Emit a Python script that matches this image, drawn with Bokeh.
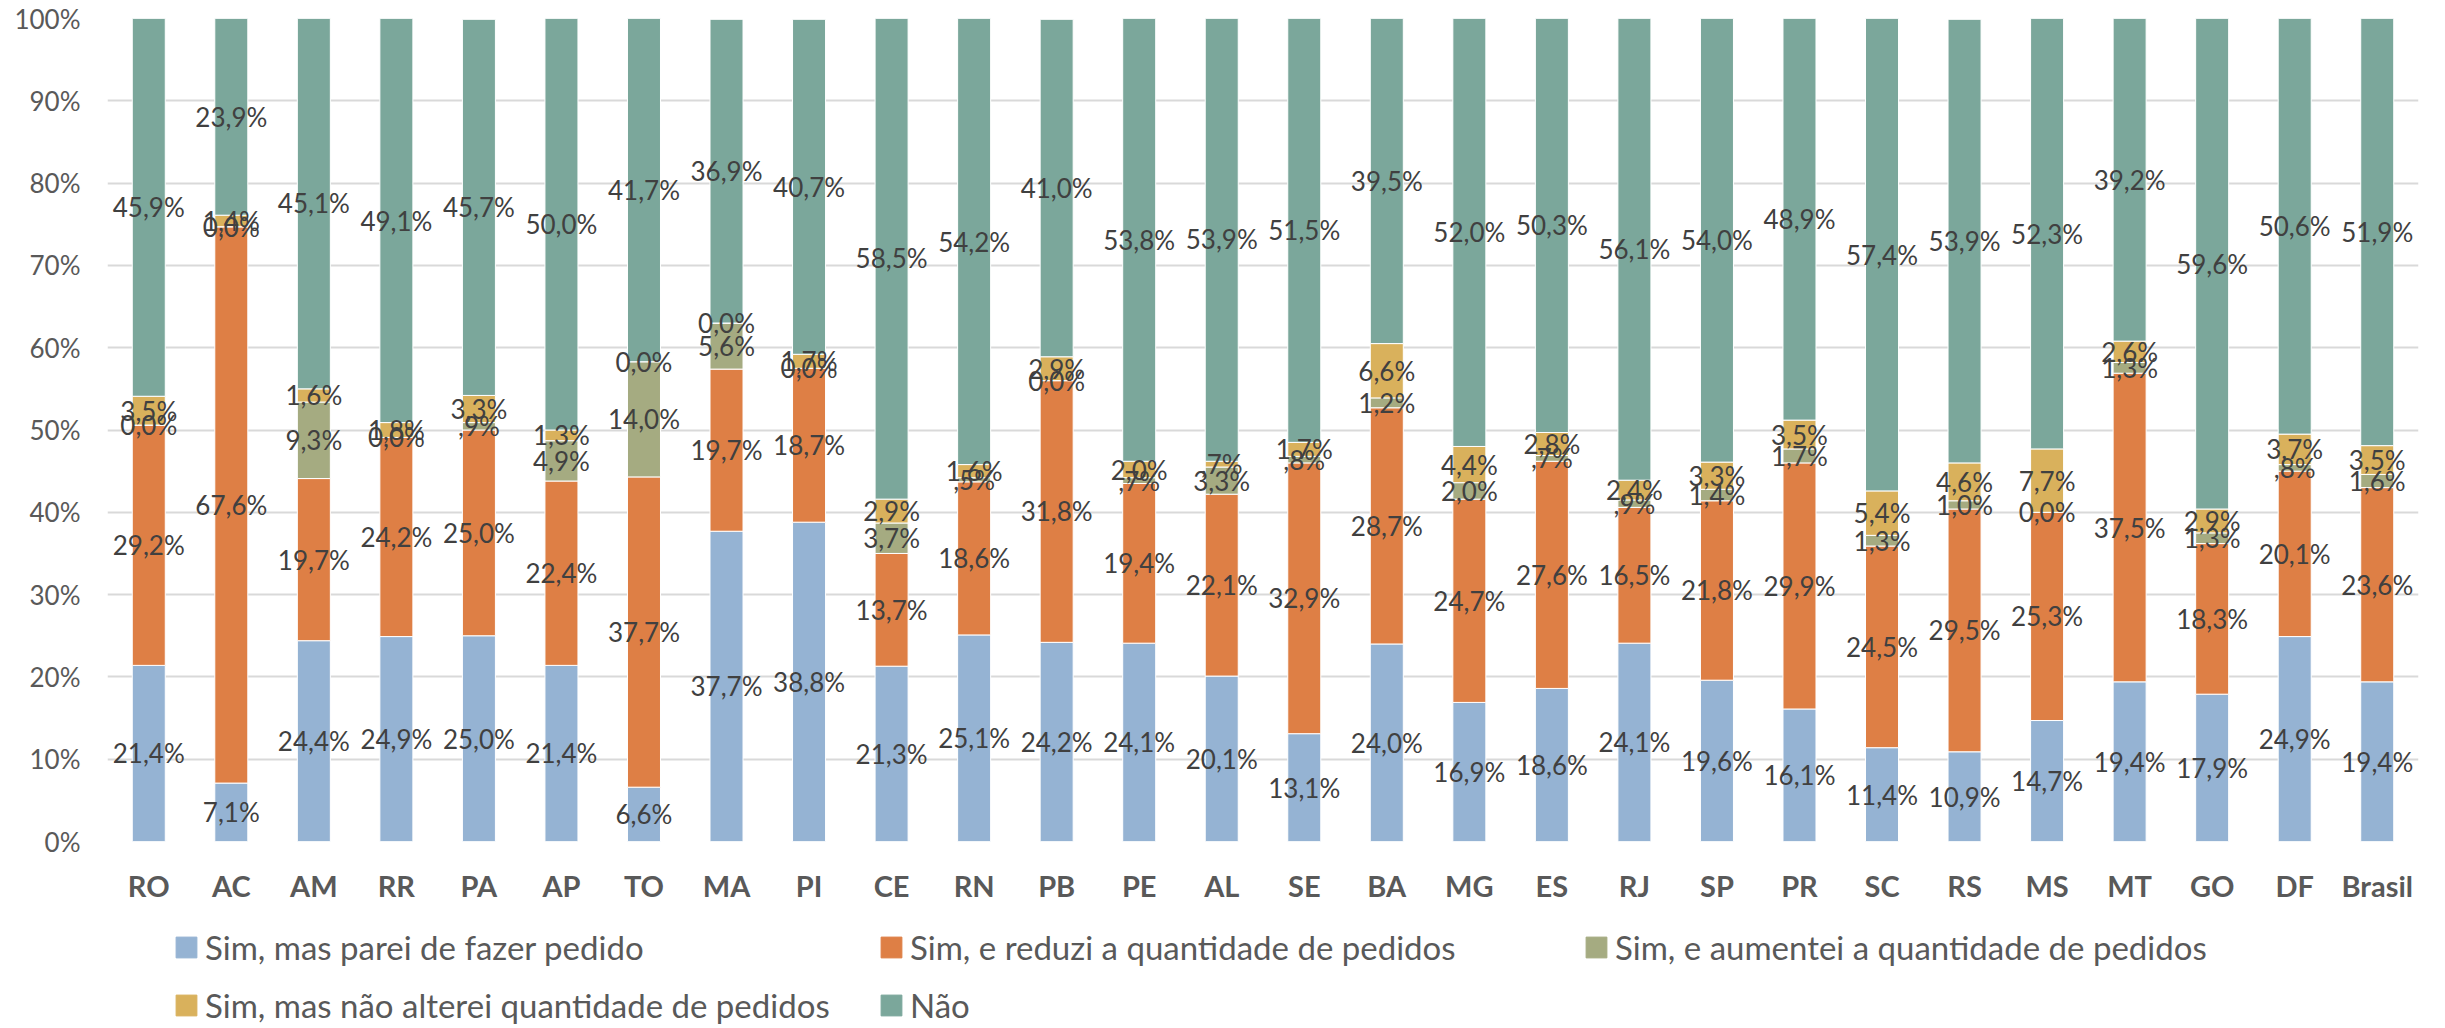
from bokeh.plotting import figure
from bokeh.layouts import column
from bokeh.models import (ColumnDataSource, FactorRange, Legend, LegendItem, PrintfTickFormatter,
                          FixedTicker, Range1d)
from bokeh.core.properties import value
from bokeh.embed import file_html
from bokeh.resources import INLINE

categories = ["RO", "AC", "AM", "RR", "PA", "AP", "TO", "MA", "PI", "CE", "RN", "PB", "PE", "AL",
              "SE", "BA", "MG", "ES", "RJ", "SP", "PR", "SC", "RS", "MS", "MT", "GO", "DF", "Brasil"]
parei = [21.4, 7.1, 24.4, 24.9, 25.0, 21.4, 6.6, 37.7, 38.8, 21.3, 25.1, 24.2, 24.1, 20.1,
         13.1, 24.0, 16.9, 18.6, 24.1, 19.6, 16.1, 11.4, 10.9, 14.7, 19.4, 17.9, 24.9, 19.4]
reduzi = [29.2, 67.6, 19.7, 24.2, 25.0, 22.4, 37.7, 19.7, 18.7, 13.7, 18.6, 31.8, 19.4, 22.1,
          32.9, 28.7, 24.7, 27.6, 16.5, 21.8, 29.9, 24.5, 29.5, 25.3, 37.5, 18.3, 20.1, 23.6]
aumentei = [0.0, 0.0, 9.3, 0.0, 0.9, 4.9, 14.0, 5.6, 0.0, 3.7, 0.5, 0.0, 0.7, 3.3,
            0.8, 1.2, 2.0, 0.7, 0.9, 1.4, 1.7, 1.3, 1.0, 0.0, 1.3, 1.3, 0.8, 1.6]
nao_alterei = [3.5, 1.4, 1.6, 1.8, 3.3, 1.3, 0.0, 0.0, 1.7, 2.9, 1.6, 2.9, 2.0, 0.7,
               1.7, 6.6, 4.4, 2.8, 2.4, 3.3, 3.5, 5.4, 4.6, 7.7, 2.6, 2.9, 3.7, 3.5]
nao = [45.9, 23.9, 45.1, 49.1, 45.7, 50.0, 41.7, 36.9, 40.7, 58.5, 54.2, 41.0, 53.8, 53.9,
       51.5, 39.5, 52.0, 50.3, 56.1, 54.0, 48.9, 57.4, 53.9, 52.3, 39.2, 59.6, 50.6, 51.9]

series_names = ["Sim, mas parei de fazer pedido",
                "Sim, e reduzi a quantidade de pedidos",
                "Sim, e aumentei a quantidade de pedidos",
                "Sim, mas não alterei quantidade de pedidos",
                "Não"]
series_keys = ["parei", "reduzi", "aumentei", "nao_alterei", "nao"]
series_values = [parei, reduzi, aumentei, nao_alterei, nao]
colors = ["#95B3D3", "#DE7F45", "#A5AB81", "#D9B15C", "#7BA79B"]
y_ticks = list(range(0, 101, 10))

FONT = "Lato"
W = 2440


def fmt(v):
    s = f"{v:.1f}".replace(".", ",")
    if 0 < v < 1:
        s = s[1:]
    return s + "%"


data = {"cat": categories}
for k, vals in zip(series_keys, series_values):
    data[k] = vals
source = ColumnDataSource(data)

p = figure(x_range=FactorRange(factors=categories, range_padding=0), y_range=(0, 100),
           width=W, height=919, output_backend="svg", toolbar_location=None,
           min_border_left=107, min_border_right=22, min_border_top=18, min_border_bottom=78)
p.outline_line_color = None
p.background_fill_color = "white"
p.border_fill_color = "white"

p.xgrid.grid_line_color = None
p.ygrid.grid_line_color = "#D9D9D9"
p.ygrid.grid_line_width = 2
p.yaxis.ticker = FixedTicker(ticks=y_ticks)
p.yaxis.formatter = PrintfTickFormatter(format="%d%%")

for ax in (p.xaxis, p.yaxis):
    ax.axis_line_color = None
    ax.major_tick_line_color = None
    ax.minor_tick_line_color = None
    ax.major_tick_out = 0
    ax.major_tick_in = 0
    ax.major_label_text_font = FONT
    ax.major_label_text_color = "#595959"

p.yaxis.major_label_text_font_size = "26px"
p.yaxis.major_label_standoff = 27
p.xaxis.major_label_text_font_size = "29px"
p.xaxis.major_label_text_font_style = "bold"
p.xaxis.major_label_standoff = 26

renderers = p.vbar_stack(series_keys, x="cat", width=0.4, color=colors,
                         line_color="white", line_width=1, source=source)

# data labels at the middle of each segment
bottoms = [0.0] * len(categories)
for vals in series_values:
    mids = [b + v / 2 for b, v in zip(bottoms, vals)]
    lab_src = ColumnDataSource({"cat": categories, "y": mids, "txt": [fmt(v) for v in vals]})
    p.text(x="cat", y="y", text="txt", source=lab_src, text_align="center",
           text_baseline="middle", text_font=value(FONT), text_font_size="26px",
           text_color="#404040")
    bottoms = [b + v for b, v in zip(bottoms, vals)]

# legend strip below the chart (frame aligned with the chart's frame)
p2 = figure(width=W, height=108, output_backend="svg", toolbar_location=None,
            x_range=Range1d(0, 1), y_range=Range1d(0, 1),
            x_axis_location=None, y_axis_location=None,
            min_border_left=0, min_border_right=0, min_border_top=0, min_border_bottom=0)
p2.outline_line_color = None
p2.grid.grid_line_color = None
# swatch renderers lie outside the visible range; they only feed the legend
swatches = [p2.vbar(x=[-5], top=[-5], width=0.1, color=c) for c in colors]
items = [LegendItem(label=n, renderers=[r]) for n, r in zip(series_names, swatches)]
# legend fills column by column: order items so rows read A B C / D E
order = [0, 3, 1, 4, 2]
legend = Legend(items=[items[i] for i in order], ncols=3, location=(66, 2),
                glyph_width=26, glyph_height=26, label_standoff=6, spacing=18,
                label_width=655, padding=0, margin=0, border_line_color=None,
                background_fill_alpha=0, label_text_font=FONT,
                label_text_font_size="33px", label_text_color="#595959")
p2.add_layout(legend, "center")

layout = column(p, p2, spacing=0)
open("out.html", "w").write(file_html(layout, INLINE))
